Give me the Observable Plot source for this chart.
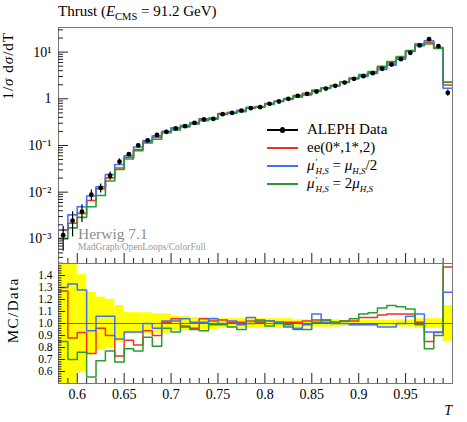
<!DOCTYPE html>
<html><head><meta charset="utf-8">
<script src="https://cdn.jsdelivr.net/npm/d3@7"></script>
<script src="https://cdn.jsdelivr.net/npm/@observablehq/plot@0.6"></script>
<style>
body{margin:0;background:#fff;}
#chart{position:relative;width:467px;height:422px;font-family:"Liberation Serif",serif;color:#000;overflow:hidden;background:#fff}
#chart svg{position:absolute;left:0;overflow:visible;background:transparent}
.t{position:absolute;white-space:nowrap;line-height:1}
.t sub,.t sup{line-height:0}
.rot{transform-origin:0 0;transform:rotate(-90deg) translateX(-100%)}
.ss{display:inline-block;vertical-align:-0.5em;line-height:1;font-size:0.6em;text-align:left;margin-left:1px}
.ss span{display:block;height:1em}
</style></head><body><div id="chart"></div>
<script>
// ---- data ----
const binEdges = [0.58,0.59,0.60,0.61,0.62,0.63,0.64,0.65,0.66,0.67,0.68,0.69,0.70,0.71,0.72,0.73,0.74,0.75,0.76,0.77,0.78,0.79,0.80,0.81,0.82,0.83,0.84,0.85,0.86,0.87,0.88,0.89,0.90,0.91,0.92,0.93,0.94,0.95,0.96,0.97,0.98,0.99,1.00];
const alephData = [1.2e-3,2.45e-3,3.8e-3,8.8e-3,0.0123,0.0225,0.045,0.065,0.100,0.128,0.168,0.196,0.231,0.259,0.306,0.360,0.370,0.469,0.500,0.560,0.630,0.660,0.780,0.875,1.00,1.16,1.28,1.43,1.66,1.90,2.23,2.68,3.05,3.54,4.40,5.43,7.07,9.70,13.9,18.9,13.4,1.34];
const alephRelErr = [0.55,0.55,0.41,0.26,0.22,0.20,0.15,0.09,0.09,0.09,0.08,0.08,0.06,0.06,0.05,0.05,0.05,0.04,0.04,0.04,0.04,0.04,0.04,0.04,0.04,0.03,0.03,0.03,0.03,0.03,0.025,0.025,0.025,0.025,0.025,0.025,0.03,0.03,0.04,0.04,0.04,0.15];
const ratioRed = [1.27,0.88,0.925,0.75,0.96,0.90,0.73,0.86,0.82,0.94,0.90,1.01,1.04,0.97,0.96,1.04,1.02,1.03,1.01,1.01,1.02,1.01,1.02,1.01,1.01,1.01,1.02,1.03,1.03,1.01,1.02,1.02,1.05,1.05,1.07,1.08,1.08,1.08,1.01,0.85,0.925,1.47];
const ratioBlue = [1.30,1.33,1.28,0.94,1.06,1.06,0.87,0.93,0.93,1.00,0.96,1.02,1.02,1.04,1.01,1.01,1.04,1.00,1.02,0.99,1.05,1.02,1.02,1.01,0.97,0.96,0.99,1.08,1.01,1.00,1.00,0.99,0.99,0.99,0.97,0.97,1.00,1.06,1.08,0.93,0.93,1.26];
const ratioGreen = [0.85,0.70,0.76,0.555,0.69,0.77,0.68,0.79,0.77,0.885,0.81,0.96,0.93,0.98,0.95,0.94,0.99,0.99,0.97,0.95,1.00,1.03,0.98,1.00,0.99,0.95,0.95,1.01,1.03,1.01,1.02,1.04,1.08,1.09,1.13,1.15,1.14,1.12,0.99,0.79,0.90,1.70];
const seriesColors = ["#f0341c","#4272f5","#2b9a30"];
const xTickValues = [0.6,0.65,0.7,0.75,0.8,0.85,0.9,0.95];
const xTickLabels = ["0.6","0.65","0.7","0.75","0.8","0.85","0.9","0.95"];
const yTickValues = [0.001,0.01,0.1,1,10];
const yTickLabels = ["10\u207B\u00B3","10\u207B\u00B2","10\u207B\u00B9","1","10\u00B9"];
const ratioTickValues = [0.6,0.7,0.8,0.9,1.0,1.1,1.2,1.3,1.4];
const ratioTickLabels = ["0.6","0.7","0.8","0.9","1.0","1.1","1.2","1.3","1.4"];

// ---- derived tables ----
const mid = i => (binEdges[i] + binEdges[i+1]) / 2;
function steps(vals){const p=[];vals.forEach((v,i)=>{p.push({T:binEdges[i],v});p.push({T:binEdges[i+1],v});});return p;}
const mcRed = alephData.map((d,i)=>d*ratioRed[i]);
const mcBlue = alephData.map((d,i)=>d*ratioBlue[i]);
const mcGreen = alephData.map((d,i)=>d*ratioGreen[i]);
const dataPts = alephData.map((v,i)=>({T:mid(i),v,lo:v*(1-alephRelErr[i]),hi:v*(1+alephRelErr[i])}));
const band = alephRelErr.map((e,i)=>({lo:binEdges[i],hi:binEdges[i+1],b1:1-e,b2:1+e}));
const xMinor = d3.range(59,100).map(k=>k/100).filter(t=>Math.abs(t*20-Math.round(t*20))>1e-6);
const yMinor = [];
for (let e=-4;e<=1;e++) for (let m=2;m<=9;m++){const v=m*Math.pow(10,e); if(v>2.96e-4&&v<33.7) yMinor.push(v);}
const rMinor = d3.range(26,75).map(k=>k/50).filter(t=>Math.abs(t*10-Math.round(t*10))>1e-6);
const fmtMap = (vals,labs)=>d=>{const i=vals.findIndex(v=>Math.abs(v-d)<1e-9);return i<0?"":labs[i];};

const chart = document.getElementById("chart");
const tickCol = "#222";
const baseStyle = {background:"transparent",overflow:"visible",fontFamily:"Liberation Serif, serif",fontSize:"14px",color:"#000"};

const mainPlot = Plot.plot({
  width:467,height:264,marginLeft:58,marginRight:15,marginTop:27,marginBottom:1,
  style:baseStyle,
  x:{domain:[0.58,1.0],axis:null},
  y:{type:"log",domain:[2.96e-4,33.7],axis:null},
  marks:[
    Plot.line(steps(mcRed),{x:"T",y:"v",stroke:seriesColors[0],strokeWidth:1.6,clip:true}),
    Plot.line(steps(mcBlue),{x:"T",y:"v",stroke:seriesColors[1],strokeWidth:1.6,clip:true}),
    Plot.line(steps(mcGreen),{x:"T",y:"v",stroke:seriesColors[2],strokeWidth:1.6,clip:true}),
    Plot.ruleX(dataPts,{x:"T",y1:"lo",y2:"hi",stroke:"#000",strokeWidth:1.2,clip:true}),
    Plot.dot(dataPts,{x:"T",y:"v",r:2.4,fill:"#000",stroke:"none"}),
    Plot.frame({stroke:"#777"}),
    Plot.axisY(yTickValues,{anchor:"left",tickSize:10,insetLeft:10,fill:"none",label:null,stroke:tickCol}),
    Plot.axisY(yMinor,{anchor:"left",tickSize:5,insetLeft:5,fill:"none",label:null,stroke:tickCol}),
    Plot.axisY(yTickValues,{anchor:"left",tickSize:0,tickPadding:7,tickFormat:fmtMap(yTickValues,yTickLabels),label:null,fontSize:14}),
    Plot.axisX(xTickValues,{anchor:"bottom",tickSize:10,insetBottom:10,fill:"none",label:null,stroke:tickCol}),
    Plot.axisX(xMinor,{anchor:"bottom",tickSize:5,insetBottom:5,fill:"none",label:null,stroke:tickCol})
  ]
});
mainPlot.style.top="0px";
chart.appendChild(mainPlot);

const ratioPlot = Plot.plot({
  width:467,height:172,marginLeft:58,marginRight:15,marginTop:13,marginBottom:39,
  style:baseStyle,
  x:{domain:[0.58,1.0],axis:null},
  y:{domain:[0.5,1.5],axis:null},
  marks:[
    Plot.rect(band,{x1:"lo",x2:"hi",y1:"b1",y2:"b2",fill:"#ffff00",clip:true}),
    Plot.ruleY([1],{stroke:"#444",strokeWidth:0.8}),
    Plot.line(steps(ratioRed),{x:"T",y:"v",stroke:seriesColors[0],strokeWidth:1.5,clip:true}),
    Plot.line(steps(ratioBlue),{x:"T",y:"v",stroke:seriesColors[1],strokeWidth:1.5,clip:true}),
    Plot.line(steps(ratioGreen),{x:"T",y:"v",stroke:seriesColors[2],strokeWidth:1.5,clip:true}),
    Plot.frame({stroke:"#777"}),
    Plot.axisY(ratioTickValues,{anchor:"left",tickSize:7,insetLeft:7,fill:"none",label:null,stroke:tickCol}),
    Plot.axisY(rMinor,{anchor:"left",tickSize:3.5,insetLeft:3.5,fill:"none",label:null,stroke:tickCol}),
    Plot.axisY(ratioTickValues,{anchor:"left",tickSize:0,tickPadding:6,tickFormat:fmtMap(ratioTickValues,ratioTickLabels),label:null,fontSize:11.5}),
    Plot.axisX(xTickValues,{anchor:"bottom",tickSize:10,insetBottom:10,fill:"none",label:null,stroke:tickCol}),
    Plot.axisX(xMinor,{anchor:"bottom",tickSize:5,insetBottom:5,fill:"none",label:null,stroke:tickCol}),
    Plot.axisX(xTickValues,{anchor:"bottom",tickSize:0,tickPadding:6,tickFormat:fmtMap(xTickValues,xTickLabels),label:null,fontSize:14})
  ]
});
ratioPlot.style.top="250px";
chart.appendChild(ratioPlot);

// ---- text overlays ----
function addText(html, css){const d=document.createElement("div");d.className="t";d.innerHTML=html;Object.assign(d.style,css);chart.appendChild(d);return d;}
addText('Thrust (<i>E</i><sub style="font-size:0.7em">CMS</sub> = 91.2 GeV)',{left:"58px",top:"4.4px",fontSize:"15px"});
const yl = addText('1/<i>σ</i> d<i>σ</i>/dT',{left:"0.7px",top:"32px",fontSize:"15px",letterSpacing:"1px"}); yl.classList.add("rot");
const rl = addText('MC/Data',{left:"5.7px",top:"277px",fontSize:"15px",letterSpacing:"1.5px"}); rl.classList.add("rot");
addText('<i>T</i>',{right:"15px",top:"404px",fontSize:"14px"});
addText('Herwig 7.1',{left:"78px",top:"226px",fontSize:"15.5px",color:"#8c8c8c"});
addText('MadGraph/OpenLoops/ColorFull',{left:"78px",top:"242.5px",fontSize:"9.5px",color:"#999"});

// legend
const legendRows = [
  {html:'ALEPH Data', color:"#000", dot:true},
  {html:'ee(0*,1*,2)', color:seriesColors[0]},
  {html:'<i>μ</i><span class="ss"><span>′</span><span><i>H,S</i></span></span> = <i>μ</i><sub style="font-size:0.6em"><i>H,S</i></sub>/2', color:seriesColors[1]},
  {html:'<i>μ</i><span class="ss"><span>′</span><span><i>H,S</i></span></span> = 2<i>μ</i><sub style="font-size:0.6em"><i>H,S</i></sub>', color:seriesColors[2]}
];
legendRows.forEach((r,i)=>{
  const yLine = 130 + i*18;
  const s=document.createElement("div");
  Object.assign(s.style,{position:"absolute",left:"267px",width:"31px",top:(yLine-1)+"px",height:"2px",backgroundColor:r.color});
  chart.appendChild(s);
  if(r.dot){const d=document.createElement("div");Object.assign(d.style,{position:"absolute",left:"280px",top:(yLine-2.6)+"px",width:"5.2px",height:"5.2px",borderRadius:"50%",backgroundColor:"#000"});chart.appendChild(d);}
  addText(r.html,{left:"307px",top:(yLine+4.5-12.56)+"px",fontSize:"15px",height:"15px"});
});
</script></body></html>
